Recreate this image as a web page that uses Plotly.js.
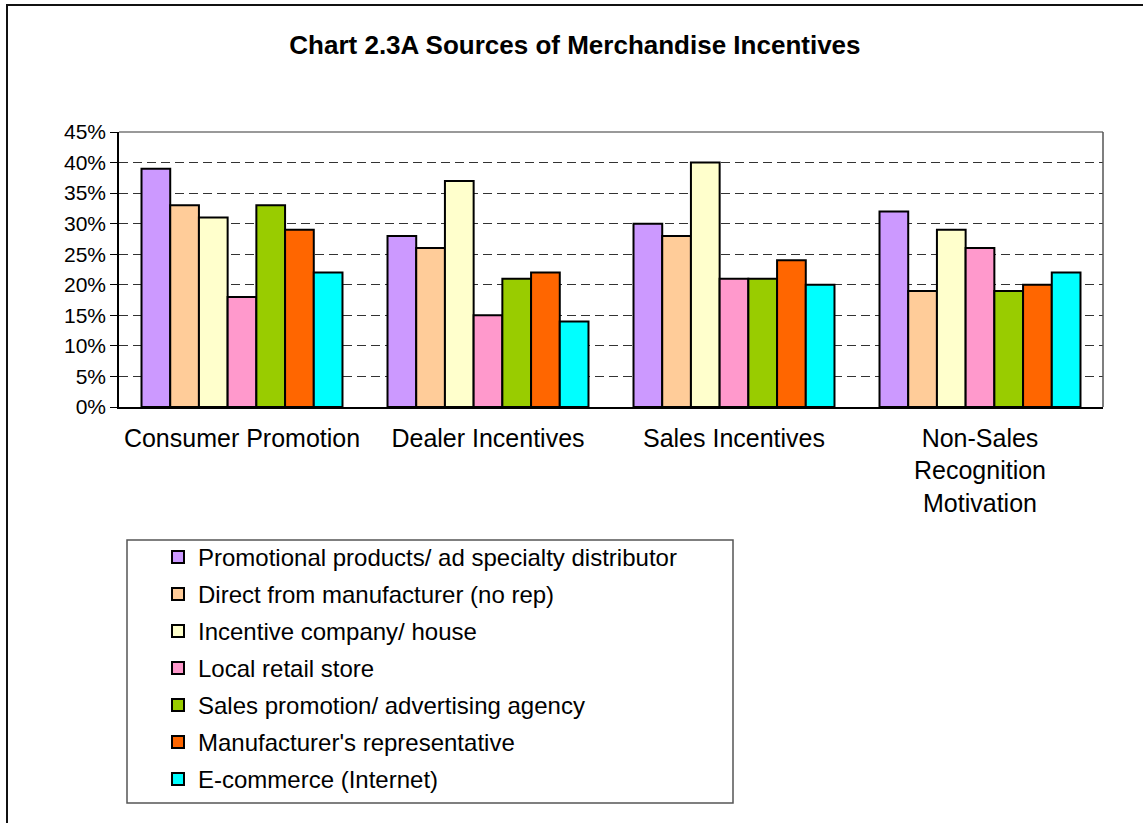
<!DOCTYPE html>
<html>
<head>
<meta charset="utf-8">
<script src="https://cdn.plot.ly/plotly-3.0.1.min.js"></script>
<style>
  html, body { margin: 0; padding: 0; background: #fff; }
  #chart { width: 1143px; height: 823px; }
</style>
</head>
<body>
<div id="chart"></div>
<script>
const categories = ["Consumer Promotion", "Dealer Incentives", "Sales Incentives", "Non-Sales<br>Recognition<br>Motivation"];
const seriesNames = [
  "Promotional products/ ad specialty distributor",
  "Direct from manufacturer (no rep)",
  "Incentive company/ house",
  "Local retail store",
  "Sales promotion/ advertising agency",
  "Manufacturer's representative",
  "E-commerce (Internet)"
];
const promoDistributor = [0.39, 0.28, 0.30, 0.32];
const directManufacturer = [0.33, 0.26, 0.28, 0.19];
const incentiveCompany = [0.31, 0.37, 0.40, 0.29];
const localRetail = [0.18, 0.15, 0.21, 0.26];
const salesPromoAgency = [0.33, 0.21, 0.21, 0.19];
const manufacturerRep = [0.29, 0.22, 0.24, 0.20];
const ecommerce = [0.22, 0.14, 0.20, 0.22];
const seriesValues = [promoDistributor, directManufacturer, incentiveCompany, localRetail, salesPromoAgency, manufacturerRep, ecommerce];
const colors = ["#CC99FF", "#FFCC99", "#FFFFCC", "#FF99CC", "#99CC00", "#FF6600", "#00FFFF"];
const yTickVals = [0, 0.05, 0.10, 0.15, 0.20, 0.25, 0.30, 0.35, 0.40, 0.45];

const FONT = "Liberation Sans, Arial, Helvetica, sans-serif";

const traces = seriesNames.map((name, i) => ({
  type: "bar",
  name: name,
  x: categories,
  y: seriesValues[i],
  legendgroup: "g" + i,
  marker: { color: colors[i], line: { color: "#000", width: 2 } },
  hoverinfo: "x+y+name"
}));

const layout = {
  width: 1143,
  height: 823,
  paper_bgcolor: "#fff",
  plot_bgcolor: "#fff",
  margin: { l: 119, r: 40, t: 132, b: 416, pad: 0 },
  barmode: "group",
  bargap: 0.183,
  bargroupgap: 0,
  font: { family: FONT, color: "#000" },
  title: {
    text: "<b>Chart 2.3A Sources of Merchandise Incentives</b>",
    font: { family: FONT, size: 26, color: "#000" },
    x: 0.503, xanchor: "center",
    y: 1 - 45 / 823, yanchor: "middle", yref: "container"
  },
  xaxis: {
    type: "category",
    showline: true, linecolor: "#000", linewidth: 1.5,
    ticks: "", showgrid: false,
    tickfont: { family: FONT, size: 25, color: "#000" },
    ticklabelstandoff: 8
  },
  yaxis: {
    range: [0, 0.45],
    tickvals: yTickVals,
    tickformat: ".0%",
    showline: true, linecolor: "#000", linewidth: 1.5,
    ticks: "outside", ticklen: 7, tickcolor: "#000", tickwidth: 1,
    showgrid: true, gridcolor: "#333", gridwidth: 1, griddash: "9px,5px",
    zeroline: false,
    tickfont: { family: FONT, size: 21, color: "#000" }
  },
  showlegend: true,
  legend: {
    orientation: "v",
    traceorder: "grouped",
    tracegroupgap: 2.8,
    x: 39 / 984, xanchor: "left",
    y: -128 / 275, yanchor: "top",
    bgcolor: "rgba(0,0,0,0)",
    borderwidth: 0,
    font: { family: FONT, size: 24, color: "#000" }
  },
  shapes: [
    // legend box
    { type: "rect", xref: "paper", yref: "paper",
      x0: (127 - 119) / 984, x1: (733 - 119) / 984,
      y0: (407 - 803) / 275, y1: (407 - 540) / 275,
      line: { color: "#555", width: 1.5 }, fillcolor: "rgba(0,0,0,0)", layer: "below" },
    // plot top and right border
    { type: "line", xref: "paper", yref: "paper", x0: 0, x1: 1, y0: 1, y1: 1,
      line: { color: "#777", width: 1.5 } },
    { type: "line", xref: "paper", yref: "paper", x0: 1, x1: 1, y0: 0, y1: 1,
      line: { color: "#555", width: 1.5 } },
    // outer chart frame
    { type: "rect", xref: "paper", yref: "paper",
      x0: (7 - 119) / 984, x1: 1.2,
      y0: -3, y1: (407 - 5) / 275,
      line: { color: "#111", width: 2 }, fillcolor: "rgba(0,0,0,0)", layer: "below" }
  ]
};

Plotly.newPlot("chart", traces, layout, { displayModeBar: false, staticPlot: false });
</script>
</body>
</html>
